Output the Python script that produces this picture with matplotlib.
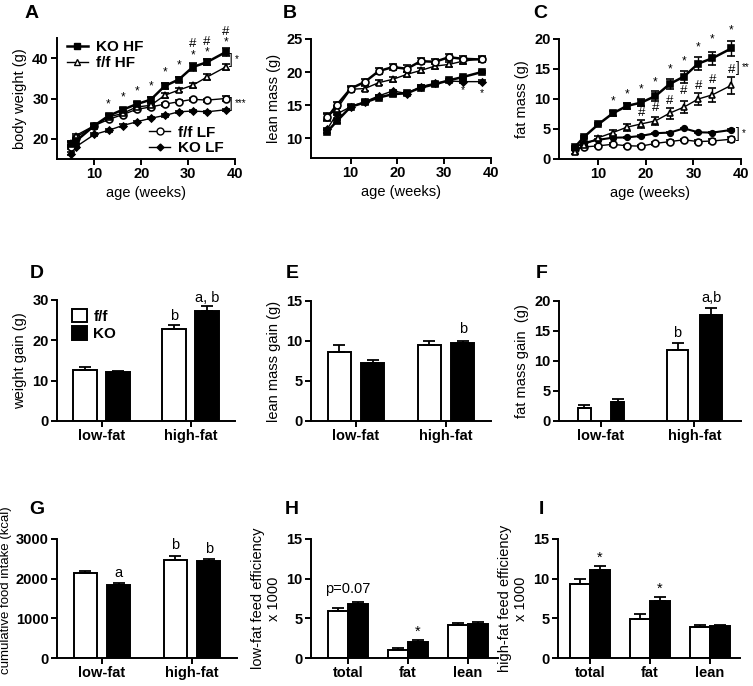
import matplotlib
matplotlib.use("Agg")
import matplotlib.pyplot as plt
from matplotlib.lines import Line2D
from matplotlib.patches import Patch
import numpy as np

plt.rcParams['font.family'] = ['Liberation Sans', 'DejaVu Sans']

# ---- growth curves ----
weeks_a = [5, 6, 10, 13, 16, 19, 22, 25, 28, 31, 34, 38]
weeks_bc = [5, 7, 10, 13, 16, 19, 22, 25, 28, 31, 34, 38]

bw_ko_hf = [18.6, 19.4, 23.3, 25.7, 27.2, 28.6, 29.7, 33.1, 34.7, 37.8, 39.0, 41.5]
bw_ko_hf_err = [0.6, 0.6, 0.5, 0.5, 0.5, 0.6, 0.6, 0.7, 0.7, 0.9, 0.8, 1.0]
bw_ff_hf = [19.0, 20.8, 23.3, 25.4, 26.3, 27.9, 28.3, 30.8, 32.1, 33.3, 35.3, 37.8]
bw_ff_hf_err = [0.5, 0.5, 0.4, 0.5, 0.5, 0.5, 0.5, 0.6, 0.6, 0.6, 0.7, 0.8]
bw_ff_lf = [18.0, 20.3, 23.3, 24.8, 26.0, 27.3, 27.9, 28.6, 29.2, 29.8, 29.6, 30.0]
bw_ff_lf_err = [0.5, 0.5, 0.4, 0.4, 0.4, 0.4, 0.4, 0.4, 0.4, 0.4, 0.4, 0.5]
bw_ko_lf = [16.3, 18.0, 21.1, 22.1, 23.3, 24.2, 25.1, 25.8, 26.7, 26.9, 26.7, 27.2]
bw_ko_lf_err = [0.4, 0.3, 0.3, 0.3, 0.3, 0.3, 0.3, 0.3, 0.3, 0.3, 0.3, 0.3]
bw_star_y = [28.6, 30.3, 31.8, 32.9, 36.4, 38.1, 40.7, 41.3, 43.8]
bw_star_x = [13, 16, 19, 22, 25, 28, 31, 34, 38]
bw_hash_x = [31, 34, 38]
bw_hash_y = [43.4, 43.9, 46.6]

lm_ff_lf = [13.15, 15.0, 17.5, 18.5, 20.15, 20.75, 20.5, 21.65, 21.55, 22.25, 22.0, 21.9]
lm_ff_lf_err = [0.5, 0.4, 0.4, 0.4, 0.5, 0.5, 0.5, 0.5, 0.4, 0.5, 0.4, 0.4]
lm_ff_hf = [13.3, 14.4, 17.4, 17.5, 18.4, 18.9, 19.65, 20.25, 20.9, 21.15, 21.65, 22.0]
lm_ff_hf_err = [0.5, 0.4, 0.4, 0.4, 0.4, 0.4, 0.4, 0.4, 0.4, 0.4, 0.4, 0.4]
lm_ko_hf = [11.0, 12.55, 14.75, 15.4, 16.15, 16.65, 16.8, 17.65, 18.15, 18.75, 19.25, 20.0]
lm_ko_hf_err = [0.2, 0.2, 0.2, 0.2, 0.2, 0.2, 0.2, 0.2, 0.2, 0.2, 0.2, 0.2]
lm_ko_lf = [11.4, 13.65, 14.75, 15.5, 16.4, 17.15, 16.75, 17.8, 18.3, 18.65, 18.55, 18.55]
lm_ko_lf_err = [0.2, 0.2, 0.2, 0.2, 0.2, 0.2, 0.2, 0.2, 0.2, 0.2, 0.2, 0.2]
lm_star_x = [34, 38]
lm_star_y = [17.2, 16.8]

fm_ko_hf = [1.95, 3.7, 5.8, 7.6, 8.85, 9.4, 10.5, 12.5, 13.75, 15.9, 16.8, 18.45]
fm_ko_hf_err = [0.2, 0.2, 0.2, 0.4, 0.5, 0.6, 0.8, 0.9, 1.0, 1.1, 1.1, 1.3]
fm_ff_hf = [1.2, 2.35, 3.55, 4.4, 5.3, 5.85, 6.35, 7.65, 8.65, 10.0, 10.7, 12.3]
fm_ff_hf_err = [0.3, 0.2, 0.3, 0.4, 0.6, 0.6, 0.7, 0.9, 1.0, 1.0, 1.2, 1.4]
fm_ko_lf = [1.9, 2.7, 3.2, 3.55, 3.6, 3.85, 4.3, 4.4, 5.1, 4.45, 4.4, 4.85]
fm_ko_lf_err = [0.1, 0.1, 0.1, 0.1, 0.1, 0.1, 0.1, 0.1, 0.1, 0.1, 0.1, 0.2]
fm_ff_lf = [1.7, 2.0, 2.2, 2.45, 2.2, 2.15, 2.6, 2.9, 3.2, 2.9, 3.0, 3.3]
fm_ff_lf_err = [0.2, 0.2, 0.2, 0.2, 0.2, 0.2, 0.2, 0.3, 0.2, 0.2, 0.4, 0.4]
fm_star_x = [13, 16, 19, 22, 25, 28, 31, 34, 38]
fm_star_y = [9.6, 10.7, 11.65, 12.75, 15.0, 16.3, 18.6, 20.0, 21.4]
fm_hash_x = [19, 22, 25, 28, 31, 34, 38]
fm_hash_y = [7.6, 8.45, 9.6, 11.25, 12.1, 13.2, 14.9]

# ---- gains / intake (f/f, KO) ----
diets = ['low-fat', 'high-fat']
wg_ff = [12.7, 22.8]
wg_ff_err = [0.7, 1.1]
wg_ko = [12.2, 27.3]
wg_ko_err = [0.3, 1.1]
wg_lab = ['', 'b']
wg_lab_ko = ['', 'a, b']

lg_ff = [8.6, 9.45]
lg_ff_err = [0.85, 0.5]
lg_ko = [7.25, 9.75]
lg_ko_err = [0.4, 0.3]
lg_lab = ['', '']
lg_lab_ko = ['', 'b']

fg_ff = [2.15, 11.8]
fg_ff_err = [0.5, 1.25]
fg_ko = [3.2, 17.7]
fg_ko_err = [0.4, 1.15]
fg_lab = ['', 'b']
fg_lab_ko = ['', 'a,b']

fi_ff = [2142, 2458]
fi_ff_err = [40, 125]
fi_ko = [1833, 2440]
fi_ko_err = [57, 50]
fi_lab = ['', 'b']
fi_lab_ko = ['a', 'b']

# ---- feed efficiency ----
fe_cats = ['total', 'fat', 'lean']
fe_lf_ff = [5.96, 1.0, 4.1]
fe_lf_ff_err = [0.35, 0.25, 0.35]
fe_lf_ko = [6.75, 2.0, 4.33]
fe_lf_ko_err = [0.25, 0.25, 0.22]
fe_hf_ff = [9.3, 4.95, 3.9]
fe_hf_ff_err = [0.6, 0.65, 0.2]
fe_hf_ko = [11.1, 7.2, 4.0]
fe_hf_ko_err = [0.5, 0.5, 0.1]

W, H = 753, 686
fig = plt.figure(figsize=(W / 100, H / 100), dpi=100)
TICK = 10.5


def ax_at(x0, y0, x1, y1):
    ax = fig.add_axes([x0 / W, 1 - y1 / H, (x1 - x0) / W, (y1 - y0) / H])
    for s in ['top', 'right']:
        ax.spines[s].set_visible(False)
    for s in ['left', 'bottom']:
        ax.spines[s].set_linewidth(1.4)
    ax.tick_params(direction='out', width=1.4, length=4, labelsize=TICK, pad=2)
    return ax


def bold_ticks(ax):
    for lab in ax.get_xticklabels() + ax.get_yticklabels():
        lab.set_fontweight('bold')


def curve(ax, x, y, err, marker, face, lw=1.0, ms=5):
    ax.errorbar(x, y, yerr=err, color='k', lw=lw, marker=marker, ms=ms,
                mfc=face, mec='k', mew=1.2, capsize=3, elinewidth=1.0,
                capthick=1.0, clip_on=False)


def grow_axes(ax, xlim, ylim, yticks, ylabel):
    ax.set_xlim(*xlim)
    ax.set_ylim(*ylim)
    ax.set_xticks([10, 20, 30, 40])
    ax.set_yticks(yticks)
    ax.set_xlabel('age (weeks)', fontsize=10.5, labelpad=3)
    ax.set_ylabel(ylabel, fontsize=10.5, labelpad=4)
    bold_ticks(ax)


# A
ax = ax_at(57, 38, 235, 159)
curve(ax, weeks_a, bw_ko_lf, bw_ko_lf_err, 'D', 'k', ms=3.5)
curve(ax, weeks_a, bw_ff_lf, bw_ff_lf_err, 'o', 'white')
curve(ax, weeks_a, bw_ff_hf, bw_ff_hf_err, '^', 'white')
curve(ax, weeks_a, bw_ko_hf, bw_ko_hf_err, 's', 'k', lw=1.8)
for x, y in zip(bw_star_x, bw_star_y):
    ax.text(x, y, '*', ha='center', va='center', fontsize=8.5)
for x, y in zip(bw_hash_x, bw_hash_y):
    ax.text(x, y, '#', ha='center', va='center', fontsize=9.5, clip_on=False)
ax.text(38.8, 39.6, ']', ha='left', va='center', fontsize=10)
ax.text(40.0, 39.8, '*', ha='left', va='center', fontsize=7)
ax.text(38.8, 28.6, ']', ha='left', va='center', fontsize=10)
ax.text(40.0, 28.8, '***', ha='left', va='center', fontsize=7)
grow_axes(ax, (2, 40), (15, 45), [20, 30, 40], 'body weight (g)')
h1 = [Line2D([], [], color='k', lw=1.8, marker='s', ms=5, mfc='k'),
      Line2D([], [], color='k', lw=1.0, marker='^', ms=5, mfc='white')]
leg1 = ax.legend(h1, ['KO HF', 'f/f HF'], loc='upper left', frameon=False,
                 prop={'weight': 'bold', 'size': 11}, handlelength=1.4,
                 handletextpad=0.5, labelspacing=0.1, borderaxespad=0.0,
                 bbox_to_anchor=(0.02, 1.03))
ax.add_artist(leg1)
h2 = [Line2D([], [], color='k', lw=1.0, marker='o', ms=5, mfc='white'),
      Line2D([], [], color='k', lw=1.0, marker='D', ms=3.5, mfc='k')]
ax.legend(h2, ['f/f LF', 'KO LF'], loc='lower right', frameon=False,
          prop={'weight': 'bold', 'size': 11}, handlelength=1.4,
          handletextpad=0.5, labelspacing=0.1, borderaxespad=0.0,
          bbox_to_anchor=(0.97, -0.02))

# B
ax = ax_at(311, 39, 491, 158)
curve(ax, weeks_bc, lm_ko_lf, lm_ko_lf_err, 'D', 'k', ms=3.5)
curve(ax, weeks_bc, lm_ko_hf, lm_ko_hf_err, 's', 'k', lw=1.8)
curve(ax, weeks_bc, lm_ff_hf, lm_ff_hf_err, '^', 'white')
curve(ax, weeks_bc, lm_ff_lf, lm_ff_lf_err, 'o', 'white', lw=1.8)
for x, y in zip(lm_star_x, lm_star_y):
    ax.text(x, y, '*', ha='center', va='center', fontsize=7.5)
grow_axes(ax, (1.5, 40), (7, 25), [10, 15, 20, 25], 'lean mass (g)')

# C
ax = ax_at(559, 39, 741, 159)
curve(ax, weeks_bc, fm_ff_lf, fm_ff_lf_err, 'o', 'white')
curve(ax, weeks_bc, fm_ko_lf, fm_ko_lf_err, 'o', 'k', lw=1.5, ms=4)
curve(ax, weeks_bc, fm_ff_hf, fm_ff_hf_err, '^', 'white')
curve(ax, weeks_bc, fm_ko_hf, fm_ko_hf_err, 's', 'k', lw=1.8)
for x, y in zip(fm_star_x, fm_star_y):
    ax.text(x, y, '*', ha='center', va='center', fontsize=8.5, clip_on=False)
for x, y in zip(fm_hash_x, fm_hash_y):
    ax.text(x, y, '#', ha='center', va='center', fontsize=9.5)
ax.text(38.9, 15.2, ']', ha='left', va='center', fontsize=10)
ax.text(40.1, 15.4, '**', ha='left', va='center', fontsize=7)
ax.text(38.9, 4.1, ']', ha='left', va='center', fontsize=10)
ax.text(40.1, 4.3, '*', ha='left', va='center', fontsize=7)
grow_axes(ax, (1.7, 40), (0, 20), [0, 5, 10, 15, 20], 'fat mass (g)')


def bars(ax, xs, ff, ff_err, ko, ko_err, off, width, lab_ff=None, lab_ko=None,
         pad=0.0):
    xs = np.asarray(xs, dtype=float)
    ax.bar(xs - off, ff, width=width, color='white', edgecolor='k', lw=1.4)
    ax.bar(xs + off, ko, width=width, color='k', edgecolor='k', lw=1.4)
    ax.errorbar(xs - off, ff, yerr=[np.zeros(len(ff)), ff_err], fmt='none',
                ecolor='k', elinewidth=1.3, capsize=4, capthick=1.3)
    ax.errorbar(xs + off, ko, yerr=[np.zeros(len(ko)), ko_err], fmt='none',
                ecolor='k', elinewidth=1.3, capsize=4, capthick=1.3)
    if lab_ff:
        for x, v, e, t in zip(xs - off, ff, ff_err, lab_ff):
            if t:
                ax.text(x, v + e + pad, t, ha='center', va='bottom', fontsize=10.5)
    if lab_ko:
        for x, v, e, t in zip(xs + off, ko, ko_err, lab_ko):
            if t:
                ax.text(x, v + e + pad, t, ha='center', va='bottom', fontsize=10.5,
                        clip_on=False)


def bar_axes(ax, cats, xlim, ylim, yticks, ylabel, lsize=10.5):
    ax.set_xlim(*xlim)
    ax.set_ylim(*ylim)
    ax.set_xticks(range(len(cats)))
    ax.set_xticklabels(cats, fontsize=TICK)
    ax.set_yticks(yticks)
    ax.set_ylabel(ylabel, fontsize=lsize, labelpad=4)
    bold_ticks(ax)


# D
ax = ax_at(57, 300, 235, 421)
bars(ax, [0, 1], wg_ff, wg_ff_err, wg_ko, wg_ko_err, 0.185, 0.26,
     wg_lab, wg_lab_ko, pad=0.4)
bar_axes(ax, diets, (-0.5, 1.5), (0, 30), [0, 10, 20, 30], 'weight gain (g)')
hd = [Patch(facecolor='white', edgecolor='k', lw=1.4),
      Patch(facecolor='k', edgecolor='k', lw=1.4)]
ax.legend(hd, ['f/f', 'KO'], loc='upper left', frameon=False,
          prop={'weight': 'bold', 'size': 11}, handlelength=1.0,
          handleheight=1.0, handletextpad=0.4, labelspacing=0.15,
          borderaxespad=0.0, bbox_to_anchor=(0.05, 0.98))

# E
ax = ax_at(311, 301, 491, 421)
bars(ax, [0, 1], lg_ff, lg_ff_err, lg_ko, lg_ko_err, 0.185, 0.26,
     lg_lab, lg_lab_ko, pad=0.6)
bar_axes(ax, diets, (-0.5, 1.5), (0, 15), [0, 5, 10, 15], 'lean mass gain (g)')

# F
ax = ax_at(559, 301, 741, 421)
ax.bar([0 - 0.18], [fg_ff[0]], width=0.14, color='white', edgecolor='k', lw=1.4)
ax.bar([0 + 0.18], [fg_ko[0]], width=0.14, color='k', edgecolor='k', lw=1.4)
ax.errorbar([-0.18, 0.18], [fg_ff[0], fg_ko[0]],
            yerr=[[0, 0], [fg_ff_err[0], fg_ko_err[0]]], fmt='none', ecolor='k',
            elinewidth=1.3, capsize=4, capthick=1.3)
bars(ax, [1], fg_ff[1:], fg_ff_err[1:], fg_ko[1:], fg_ko_err[1:], 0.18, 0.23,
     fg_lab[1:], fg_lab_ko[1:], pad=0.5)
bar_axes(ax, diets, (-0.45, 1.5), (0, 20), [0, 5, 10, 15, 20],
         'fat mass gain  (g)')

# G
ax = ax_at(57, 539, 237, 658)
bars(ax, [0, 1], fi_ff, fi_ff_err, fi_ko, fi_ko_err, 0.185, 0.26,
     fi_lab, fi_lab_ko, pad=80)
bar_axes(ax, diets, (-0.5, 1.5), (0, 3000), [0, 1000, 2000, 3000],
         'cumulative food intake (kcal)', lsize=9.5)
ax.yaxis.set_label_coords(-0.25, 0.57)

# H
ax = ax_at(311, 539, 498, 658)
bars(ax, [0, 1, 2], fe_lf_ff, fe_lf_ff_err, fe_lf_ko, fe_lf_ko_err, 1 / 6, 1 / 3,
     None, ['', '*', ''], pad=0.2)
ax.text(0, 7.8, 'p=0.07', ha='center', va='bottom', fontsize=10.5)
bar_axes(ax, fe_cats, (-0.62, 2.5), (0, 15), [0, 5, 10, 15],
         'low-fat feed efficiency\nx 1000')

# I
ax = ax_at(558, 539, 740, 658)
bars(ax, [0, 1, 2], fe_hf_ff, fe_hf_ff_err, fe_hf_ko, fe_hf_ko_err, 1 / 6, 1 / 3,
     None, ['*', '*', ''], pad=0.2)
bar_axes(ax, fe_cats, (-0.53, 2.5), (0, 15), [0, 5, 10, 15],
         'high-fat feed efficiency\nx 1000')

for letter, px, py in [('A', 32, 13), ('B', 290, 13), ('C', 540, 13),
                       ('D', 37, 273), ('E', 292, 273), ('F', 542, 273),
                       ('G', 37, 510), ('H', 292, 510), ('I', 541, 510)]:
    fig.text(px / W, 1 - py / H, letter, ha='center', va='center',
             fontsize=14, fontweight='bold')

fig.savefig('out.png', dpi=100)
